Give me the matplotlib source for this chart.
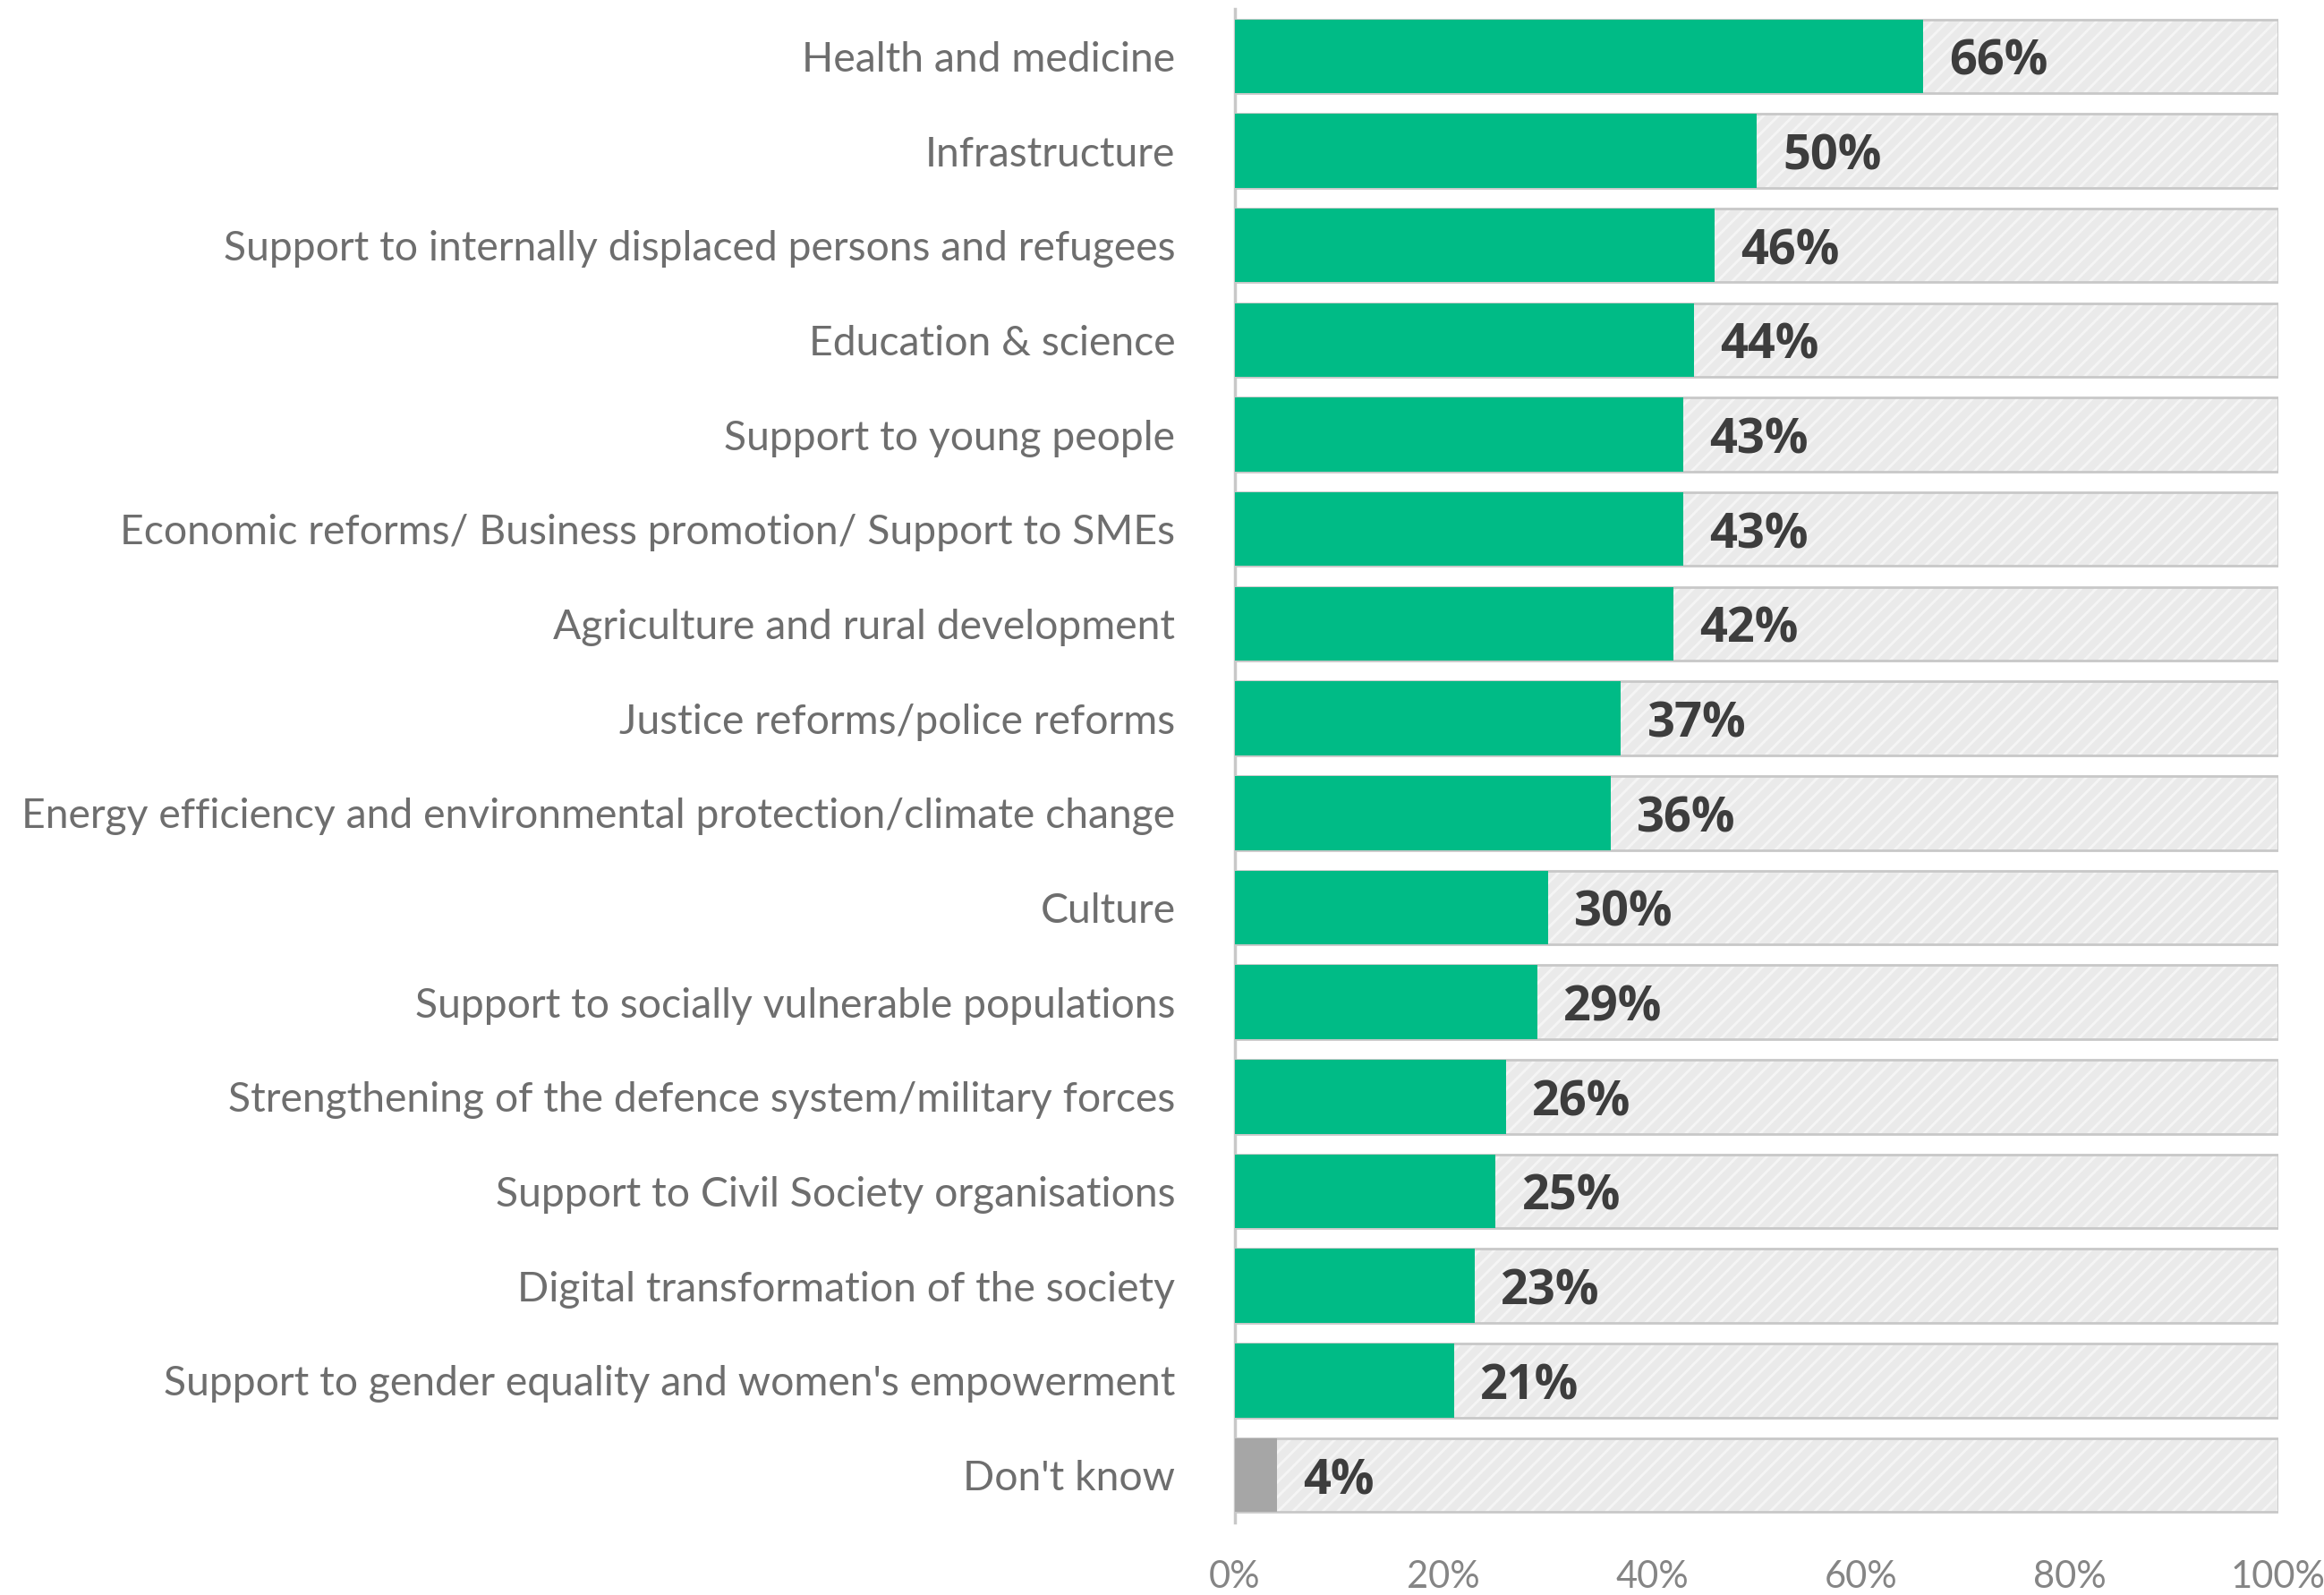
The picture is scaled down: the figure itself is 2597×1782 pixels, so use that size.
import matplotlib
matplotlib.use("Agg")
import matplotlib.pyplot as plt
from matplotlib.ticker import FuncFormatter

# --- Data ---
categories = [
    "Health and medicine",
    "Infrastructure",
    "Support to internally displaced persons and refugees",
    "Education & science",
    "Support to young people",
    "Economic reforms/ Business promotion/ Support to SMEs",
    "Agriculture and rural development",
    "Justice reforms/police reforms",
    "Energy efficiency and environmental protection/climate change",
    "Culture",
    "Support to socially vulnerable populations",
    "Strengthening of the defence system/military forces",
    "Support to Civil Society organisations",
    "Digital transformation of the society",
    "Support to gender equality and women's empowerment",
    "Don't know",
]
values = [66, 50, 46, 44, 43, 43, 42, 37, 36, 30, 29, 26, 25, 23, 21, 4]
x_ticks = [0, 20, 40, 60, 80, 100]

# --- Styling ---
GREEN = "#00bb86"
GREY_BAR = "#a6a6a6"
BG_FACE = "#eaeaea"
BG_EDGE = "#c8c8c8"
LABEL_COLOR = "#6e6e6e"
TICK_COLOR = "#858585"
VALUE_COLOR = "#3d3d3d"

plt.rcParams["hatch.linewidth"] = 2.0

fig = plt.figure(figsize=(25.97, 17.82), dpi=100)
ax = fig.add_axes([0.5314, 0.0455, 0.4488, 0.9489])

y = list(range(len(categories)))
bar_colors = [GREY_BAR if c == "Don't know" else GREEN for c in categories]

# background "track" bars: hatched light grey, then a thin outline on top
ax.barh(y, [100] * len(y), height=0.78, color=BG_FACE, edgecolor="#f5f5f5",
        hatch="//", linewidth=0, zorder=1)
ax.barh(y, [100] * len(y), height=0.78, fill=False, edgecolor=BG_EDGE,
        linewidth=2, zorder=2)
# value bars
ax.barh(y, values, height=0.78, color=bar_colors, linewidth=0, zorder=3)

for yi, v in zip(y, values):
    ax.annotate(f"{v}%", xy=(v, yi), xytext=(21, -5), textcoords="offset points",
                ha="left", va="center", fontsize=39, fontweight="bold",
                family="Open Sans", color=VALUE_COLOR, zorder=4)

ax.set_xlim(0, 100)
ax.set_ylim(len(y) - 0.5, -0.5)
ax.set_xticks(x_ticks)
ax.xaxis.set_major_formatter(FuncFormatter(lambda v, p: f"{v:.0f}%"))
ax.set_yticks(y)
ax.set_yticklabels(categories)

for lab in ax.get_yticklabels():
    lab.set_family("Lato")
    lab.set_fontsize(33.3)
    lab.set_color(LABEL_COLOR)
for lab in ax.get_xticklabels():
    lab.set_family("Lato")
    lab.set_fontsize(30)
    lab.set_color(TICK_COLOR)

ax.tick_params(axis="y", length=0, pad=48)
ax.tick_params(axis="x", length=0, pad=30)

for side in ["top", "right", "bottom"]:
    ax.spines[side].set_visible(False)
ax.spines["left"].set_color(BG_EDGE)
ax.spines["left"].set_linewidth(2.5)

fig.savefig("out.png", dpi=100, facecolor="white")
